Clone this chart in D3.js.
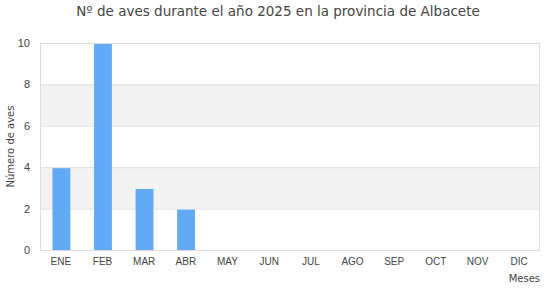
<!DOCTYPE html>
<html>
<head>
<meta charset="utf-8">
<script src="https://cdn.jsdelivr.net/npm/d3@7"></script>
<style>
  body { margin: 0; background: #fff; }
  svg { font-family: "DejaVu Sans", sans-serif; }
</style>
</head>
<body>
<svg id="chart" width="560" height="300"></svg>
<script>
var months = ['ENE', 'FEB', 'MAR', 'ABR', 'MAY', 'JUN', 'JUL', 'AGO', 'SEP', 'OCT', 'NOV', 'DIC'];
var birds = [4, 10, 3, 2, 0, 0, 0, 0, 0, 0, 0, 0];
var yTicks = [0, 2, 4, 6, 8, 10];

var margin = {top: 43, right: 20, bottom: 50, left: 40},
    width = 560 - margin.left - margin.right,
    height = 300 - margin.top - margin.bottom;

var svg = d3.select('#chart');
var g = svg.append('g')
  .attr('transform', 'translate(' + margin.left + ',' + margin.top + ')');

var x = d3.scaleBand().domain(months).range([0, width]).paddingInner(0.57).paddingOuter(0.3);
var xBand = d3.scaleBand().domain(months).range([0, width]);
var y = d3.scaleLinear().domain([0, 10]).range([height, 0]);

// alternating bands
var bands = d3.pairs(yTicks).filter(function(p, i) { return i % 2 === 1; });
g.selectAll('.band').data(bands).enter().append('rect')
  .attr('x', 0)
  .attr('width', width)
  .attr('y', function(d) { return y(d[1]); })
  .attr('height', function(d) { return y(d[0]) - y(d[1]); })
  .attr('fill', '#f3f3f3');

// grid lines
g.selectAll('.grid').data(yTicks).enter().append('line')
  .attr('x1', 0).attr('x2', width)
  .attr('y1', function(d) { return y(d) + 0.5; })
  .attr('y2', function(d) { return y(d) + 0.5; })
  .attr('stroke', '#e0e0e0');

g.append('rect')
  .attr('x', 0.5).attr('y', 0.5)
  .attr('width', width - 1).attr('height', height)
  .attr('fill', 'none')
  .attr('stroke', '#dcdcdc');

g.selectAll('.bar').data(birds).enter().append('rect')
  .attr('x', function(d, i) { return x(months[i]); })
  .attr('width', x.bandwidth())
  .attr('y', function(d) { return y(d) + 1; })
  .attr('height', function(d) { return Math.max(0, height - y(d) - 1); })
  .attr('fill', '#62a9f6');

var yAxis = g.append('g')
  .call(d3.axisLeft(y).tickValues(yTicks).tickSize(0).tickPadding(10));
yAxis.select('.domain').remove();
yAxis.selectAll('text').attr('fill', '#444').style('font-size', '11px');

var xAxis = g.append('g')
  .attr('transform', 'translate(0,' + height + ')')
  .call(d3.axisBottom(xBand).tickSize(0).tickPadding(8));
xAxis.select('.domain').remove();
xAxis.selectAll('text').attr('fill', '#444').style('font-size', '10px');

svg.append('text')
  .attr('x', 278).attr('y', 16)
  .attr('text-anchor', 'middle')
  .attr('fill', '#444')
  .style('font-size', '13.5px')
  .text('Nº de aves durante el año 2025 en la provincia de Albacete');

svg.append('text')
  .attr('transform', 'translate(14,' + (margin.top + height / 2) + ') rotate(-90)')
  .attr('text-anchor', 'middle')
  .attr('fill', '#444')
  .style('font-size', '10px')
  .text('Número de aves');

svg.append('text')
  .attr('x', 540).attr('y', 282)
  .attr('text-anchor', 'end')
  .attr('fill', '#444')
  .style('font-size', '10px')
  .text('Meses');
</script>
</body>
</html>
